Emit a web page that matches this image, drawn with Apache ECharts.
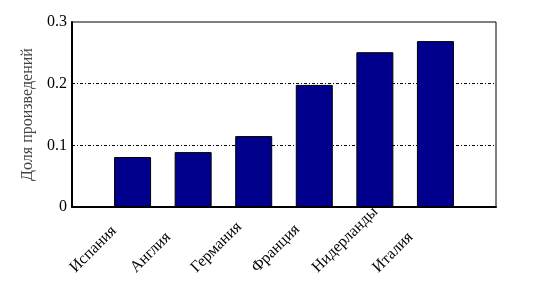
<!DOCTYPE html>
<html>
<head>
<meta charset="utf-8">
<script src="https://cdn.jsdelivr.net/npm/echarts@6/dist/echarts.min.js"></script>
<style>
  html, body { margin: 0; padding: 0; background: #fff; }
  #chart { width: 549px; height: 293px; }
</style>
</head>
<body>
<div id="chart"></div>
<script>
  // страны и доли
  const countries = ['Испания', 'Англия', 'Германия', 'Франция', 'Нидерланды', 'Италия'];
  const shares = [0.081, 0.089, 0.115, 0.198, 0.251, 0.269];
  const yTicks = [0, 0.1, 0.2, 0.3];

  const font = 'Liberation Serif';
  const myChart = echarts.init(document.getElementById('chart'));

  myChart.setOption({
    animation: false,
    grid: {
      left: 72,
      right: 53,
      top: 22,
      bottom: 86,
      show: true,
      borderColor: '#000',
      borderWidth: 1,
    },
    xAxis: {
      type: 'value',
      min: 0,
      max: countries.length + 1,
      interval: 1,
      axisLine: { show: true, lineStyle: { color: '#000', width: 2 } },
      axisTick: { show: false },
      splitLine: { show: false },
      axisLabel: {
        rotate: 45,
        margin: 3,
        fontFamily: font,
        fontSize: 16,
        color: '#000',
        // подписи выровнены по началу, как в оригинале
        formatter: (v) => (countries[v - 1] ? '{a|' + countries[v - 1] + '}' : ''),
        rich: {
          a: { width: 85, align: 'left', fontFamily: font, fontSize: 16, color: '#000' },
        },
      },
    },
    yAxis: {
      type: 'value',
      min: yTicks[0],
      max: yTicks[yTicks.length - 1],
      interval: 0.1,
      name: 'Доля произведений',
      nameLocation: 'middle',
      nameGap: 34,
      nameTextStyle: { fontFamily: font, fontSize: 16, color: '#444' },
      axisLine: { show: true, lineStyle: { color: '#000', width: 2 } },
      axisTick: { show: false },
      axisLabel: {
        margin: 5,
        fontFamily: font,
        fontSize: 16,
        color: '#000',
      },
      splitLine: {
        show: true,
        showMaxLine: false,
        lineStyle: { color: '#000', width: 1, type: [3, 2, 1, 2] },
      },
    },
    series: [
      {
        type: 'bar',
        barWidth: 37,
        data: shares.map((v, i) => [i + 1, v]),
        itemStyle: { color: '#00008c', borderColor: '#000', borderWidth: 1 },
      },
    ],
  });
</script>
</body>
</html>
